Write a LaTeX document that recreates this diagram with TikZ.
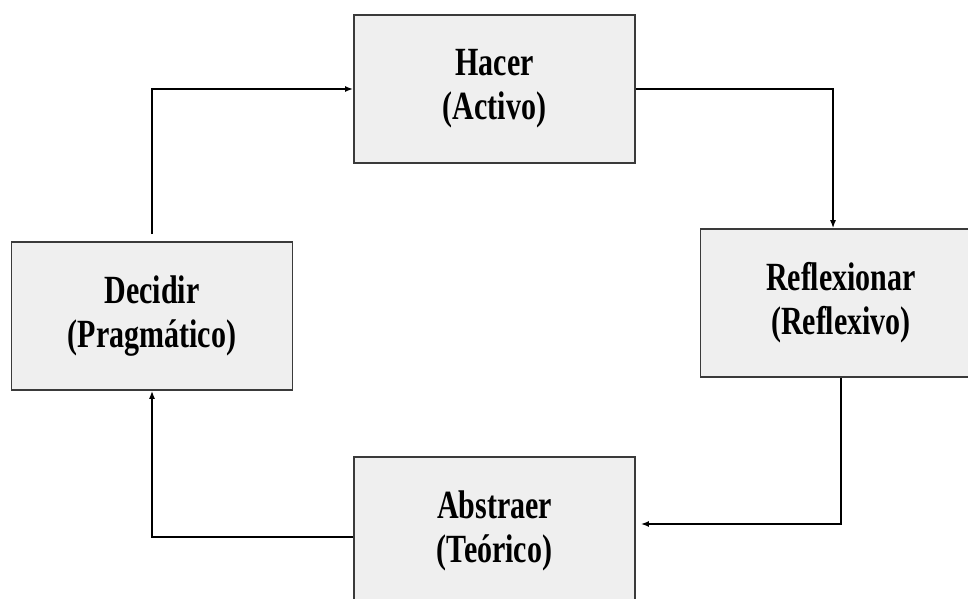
\documentclass[tikz,border=0pt]{standalone}
\usepackage{fontspec}
\newfontfamily\stagefont[FakeStretch=0.75]{Liberation Serif}
\usepackage{tikz}
\usetikzlibrary{arrows.meta}
\definecolor{boxfill}{HTML}{EFEFEF}
\definecolor{boxline}{HTML}{3A3A3A}

\begin{document}
\begin{tikzpicture}[x=0.75pt, y=-0.75pt,
    stage/.style={draw=boxline, line width=1.2pt, fill=boxfill, inner sep=0pt,
      minimum width=211pt, minimum height=111pt, align=center,
      font=\stagefont\bfseries\fontsize{30}{33}\selectfont},
    flow/.style={line width=1.1pt, -{Latex[length=6pt, width=4.5pt]}}]
        \fill[white] (0,0) rectangle (968,599);
        \useasboundingbox (0,0) rectangle (968,599);
        \clip (0,0) rectangle (968,599);

        % Stages of the cycle
        \node[stage] (hacer) at (494.5, 89) {Hacer\\(Activo)};
        \node[stage] (decidir) at (152, 316) {Decidir\\(Pragmático)};
        \node[stage] (reflexionar) at (841, 303) {Reflexionar\\(Reflexivo)};
        \node[stage] (abstraer) at (494.5, 531) {Abstraer\\(Teórico)};

        % Draw cycle arrows
        \draw[flow, shorten <=5.25pt] (decidir.north) |- (hacer.west);
        \draw[flow] (hacer.east) -| ([xshift=-6pt]reflexionar.north);
        \draw[flow, shorten >=3.75pt] (reflexionar.south) |- ([yshift=5.25pt]abstraer.east);
        \draw[flow] ([yshift=-4.5pt]abstraer.west) -| (decidir.south);
      \end{tikzpicture}
\end{document}
